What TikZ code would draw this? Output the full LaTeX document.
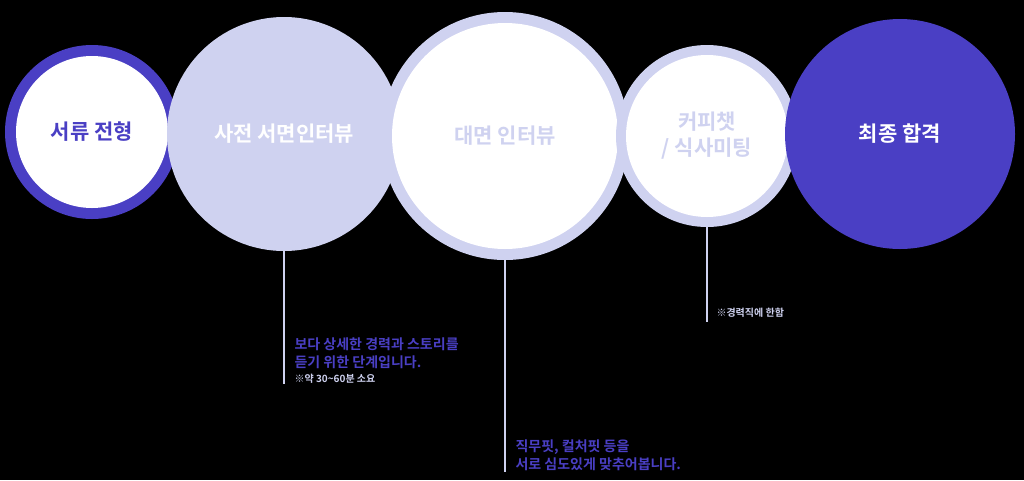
\documentclass[tikz,border=0pt]{standalone}
\usepackage{fontspec}
\setmainfont{Noto Sans CJK KR}
\newfontfamily\kb[]{Noto Sans CJK KR Bold}
\definecolor{ind}{HTML}{4A3FC4}
\definecolor{lav}{HTML}{CFD2F0}
\begin{document}
\begin{tikzpicture}[x=1pt,y=-1pt,
  big/.style={font=\kb\fontsize{21}{26}\selectfont,align=center},
  small/.style={font=\kb\fontsize{14}{18}\selectfont,align=left,anchor=north west,text=ind},
  vline/.style={draw=lav,line width=1.5pt}]
\fill[black] (0,0) rectangle (1024,480);
\useasboundingbox (0,0) rectangle (1024,480);
\fill[ind] (92,132) circle (87);
\fill[white] (92,132) circle (76);
\node[big,text=ind] (c1) at (92,132) {서류 전형};
\fill[lav] (284,134) circle (117);
\node[big,text=white] (c2) at (284,134) {사전 서면인터뷰};
\fill[lav] (505,136) circle (124);
\fill[white] (505,136) circle (113);
\node[big,text=lav] (c3) at (505,136) {대면 인터뷰};
\fill[lav] (707,136) circle (91);
\fill[white] (707,136) circle (81);
\node[big,text=lav] (c4) at (707,136) {커피챗\\/ 식사미팅};
\fill[ind] (900,134) circle (115);
\node[big,text=white] (c5) at (900,134) {최종 합격};
\coordinate (e2) at (284,384);
\coordinate (e3) at (505,472);
\coordinate (e4) at (707,322);
\draw[vline] (284,251) -- (e2);
\draw[vline] (505,260) -- (e3);
\draw[vline] (707,227) -- (e4);
\node[small] (t2) at (291,334) {보다 상세한 경력과 스토리를\\듣기 위한 단계입니다.\\[-3pt]{\fontsize{10}{12}\selectfont\color{lav}※약 30\textasciitilde60분 소요}};
\node[small] (t3) at (512,436) {직무핏, 컬처핏 등을\\서로 심도있게 맞추어봅니다.};
\node[small,text=lav,font=\kb\fontsize{10}{12}\selectfont] (t4) at (713,305) {※경력직에 한함};
\end{tikzpicture}
\end{document}
